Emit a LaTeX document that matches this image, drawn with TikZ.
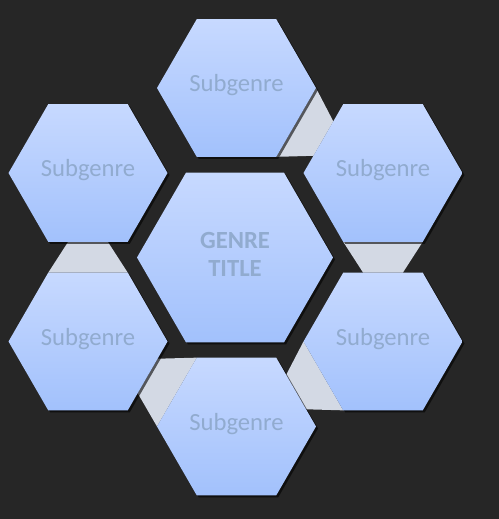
\documentclass[tikz,border=0pt]{standalone}
\usepackage{fontspec}
\setmainfont{Carlito}
\usepackage{tkz-euclide}
\usetikzlibrary{calc}
\usetikzlibrary{shapes.geometric}
\usetikzlibrary{shadows}
\definecolor{bgdark}{HTML}{262626}
\definecolor{hextop}{HTML}{C7D9FF}
\definecolor{hexbottom}{HTML}{A2C1FC}
\definecolor{hextext}{HTML}{91ABCF}
\definecolor{linkgrey}{HTML}{D3D9E4}
\pgfdeclarelayer{linklayer}
\pgfsetlayers{linklayer,main}
\tikzset{
    hexa/.style={regular polygon,regular polygon sides=6,inner sep=0pt,outer sep=0pt,
        minimum size=119.25pt,top color=hextop,bottom color=hexbottom,
        text=hextext,font=\fontsize{18.5pt}{20.6pt}\selectfont,
        text height=12.5pt,text depth=6.8pt,
        drop shadow={shadow xshift=1.5pt,shadow yshift=-1.5pt,opacity=0.6,fill=black}},
    linkfill/.style={fill=linkgrey}
}
\begin{document}
\begin{tikzpicture}[x=0.75pt,y=0.75pt]
                \useasboundingbox (0,0) rectangle (499,-519);

                \tkzDefPoint(235,-257.5){genc}
                \tkzDefPoint(236.5,-88){topc}
                \tkzDefPoint(383,-173){urc}
                \tkzDefPoint(383,-341.5){lrc}
                \tkzDefPoint(236.5,-426.5){botc}
                \tkzDefPoint(88,-341.5){llc}
                \tkzDefPoint(88,-173){ulc}

                \node[hexa,minimum size=147pt,align=center,text height=,text depth=4.8pt,
                    font=\fontsize{18.5pt}{20.6pt}\selectfont\bfseries] (gen) at (genc) {GENRE\\TITLE};
                \node[hexa] (top) at (topc) {Subgenre};
                \node[hexa] (ur) at (urc) {Subgenre};
                \node[hexa] (lr) at (lrc) {Subgenre};
                \node[hexa] (bot) at (botc) {Subgenre};
                \node[hexa] (ll) at (llc) {Subgenre};
                \node[hexa] (ul) at (ulc) {Subgenre};

                \begin{pgfonlayer}{linklayer}
                \fill[bgdark] (0,0) rectangle (499,-519);
                \fill[linkfill] (top.0) -- ($(ur.120)!0.25!(ur.180)$) -- ($(ur.120)!0.75!(ur.180)$) -- (top.-60) -- cycle;
                \fill[linkfill] (ur.-120) -- (ur.-60) -- ($(lr.60)!0.25!(lr.120)$) -- ($(lr.60)!0.75!(lr.120)$) -- cycle;
                \fill[linkfill] (lr.180) -- (lr.-120) -- ($(bot.60)!0.75!(bot.0)$) -- ($(bot.60)!0.25!(bot.0)$) -- cycle;
                \fill[linkfill] (bot.120) -- (bot.180) -- ($(ll.0)!0.75!(ll.-60)$) -- ($(ll.0)!0.25!(ll.-60)$) -- cycle;
                \fill[linkfill] (ll.120) -- (ll.60) -- ($(ul.-120)!0.75!(ul.-60)$) -- ($(ul.-120)!0.25!(ul.-60)$) -- cycle;
                \end{pgfonlayer}
            \end{tikzpicture}
\end{document}
